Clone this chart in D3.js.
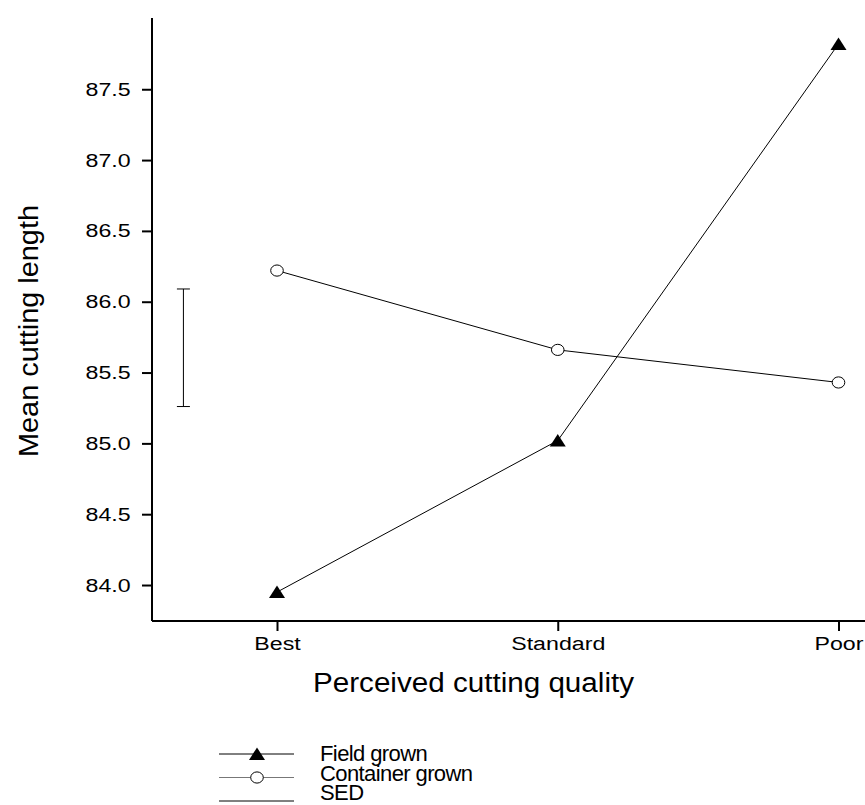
<!DOCTYPE html>
<html>
<head>
<meta charset="utf-8">
<script src="https://cdn.jsdelivr.net/npm/d3@7"></script>
<style>
  body { margin: 0; background: #fff; }
  text { font-family: "Liberation Sans", Arial, sans-serif; fill: #000; }
</style>
</head>
<body>
<div id="chart"></div>
<script>
// data
const categories = ["Best", "Standard", "Poor"];
const fieldGrown = [83.95, 85.02, 87.82];
const containerGrown = [86.22, 85.66, 85.43];
const sedRange = [85.26, 86.09];
const yTicks = [84.0, 84.5, 85.0, 85.5, 86.0, 86.5, 87.0, 87.5];
const legendNames = ["Field grown", "Container grown", "SED"];

const margin = {top: 18, right: 0, bottom: 184, left: 152};
const width = 865 - margin.left - margin.right;
const height = 805 - margin.top - margin.bottom;

const svg = d3.select("#chart")
    .append("svg")
    .attr("width", 865)
    .attr("height", 805);

const g = svg.append("g")
    .attr("transform", "translate(" + margin.left + "," + margin.top + ")");

const x = d3.scalePoint().domain(categories).range([125, 686.5]);
const y = d3.scaleLinear().domain([83.746, 88.003]).range([height, 0]);

// axes
const yAxis = g.append("g")
    .call(d3.axisLeft(y).tickValues(yTicks).tickFormat(d3.format(".1f")).tickSize(10).tickSizeOuter(0));
yAxis.select(".domain").attr("d", "M0,0V" + height).attr("stroke-width", 2);
yAxis.selectAll(".tick line").attr("stroke-width", 2);
yAxis.selectAll("text")
    .style("font-size", "19px")
    .attr("x", -21.3 / 1.22)
    .attr("transform", "scale(1.22,1)");

const xAxis = g.append("g")
    .attr("transform", "translate(0," + height + ")")
    .call(d3.axisBottom(x).tickSize(10).tickSizeOuter(0));
xAxis.select(".domain").attr("d", "M0,0H" + width).attr("stroke-width", 2);
xAxis.selectAll(".tick line").attr("stroke-width", 2);
xAxis.selectAll("text")
    .style("font-size", "19px")
    .attr("y", 15.5)
    .attr("transform", "scale(1.22,1)");

// axis titles
g.append("text")
    .attr("transform", "rotate(-90)")
    .attr("x", -(331 - margin.top))
    .attr("y", 38 - margin.left)
    .attr("text-anchor", "middle")
    .attr("textLength", 252)
    .attr("lengthAdjust", "spacingAndGlyphs")
    .style("font-size", "27px")
    .text("Mean cutting length");

g.append("text")
    .attr("x", (313 + 634) / 2 - margin.left)
    .attr("y", height + 71)
    .attr("text-anchor", "middle")
    .attr("textLength", 321)
    .attr("lengthAdjust", "spacingAndGlyphs")
    .style("font-size", "27px")
    .text("Perceived cutting quality");

// SED bar
const sedX = x("Best") - x.step() / 3;
g.append("path")
    .attr("d", "M" + (sedX - 6.5) + "," + y(sedRange[1]) + "H" + (sedX + 6.5) +
               "M" + sedX + "," + y(sedRange[1]) + "V" + y(sedRange[0]) +
               "M" + (sedX - 6.5) + "," + y(sedRange[0]) + "H" + (sedX + 6.5))
    .attr("stroke", "#000")
    .attr("stroke-width", 1)
    .attr("fill", "none");

// lines
const line = d3.line()
    .x((d, i) => x(categories[i]))
    .y(d => y(d));

g.append("path").datum(fieldGrown)
    .attr("d", line).attr("fill", "none").attr("stroke", "#000").attr("stroke-width", 1);
g.append("path").datum(containerGrown)
    .attr("d", line).attr("fill", "none").attr("stroke", "#000").attr("stroke-width", 1);

const tri = (cx, cy) => "M" + cx + "," + (cy - 6.5) + "L" + (cx + 8) + "," + (cy + 6) + "L" + (cx - 8) + "," + (cy + 6) + "Z";

g.selectAll(".tri")
    .data(fieldGrown)
    .enter().append("path")
    .attr("class", "tri")
    .attr("d", (d, i) => tri(x(categories[i]), y(d)))
    .attr("fill", "#000");

g.selectAll(".circ")
    .data(containerGrown)
    .enter().append("ellipse")
    .attr("class", "circ")
    .attr("cx", (d, i) => x(categories[i]))
    .attr("cy", d => y(d))
    .attr("rx", 6.3)
    .attr("ry", 5.6)
    .attr("fill", "#fff")
    .attr("stroke", "#000")
    .attr("stroke-width", 1);

// legend
const legend = svg.append("g").attr("transform", "translate(219,754)");
const rows = legend.selectAll(".row")
    .data(legendNames)
    .enter().append("g")
    .attr("class", "row")
    .attr("transform", (d, i) => "translate(0," + (i * 23.5) + ")");

rows.append("line")
    .attr("x1", 0).attr("x2", 75)
    .attr("stroke", (d, i) => i === 1 ? "#777" : "#000")
    .attr("stroke-width", 1);

rows.filter((d, i) => i === 0).append("path")
    .attr("d", tri(38, 0))
    .attr("fill", "#000");
rows.filter((d, i) => i === 1).append("ellipse")
    .attr("cx", 38).attr("rx", 6.3).attr("ry", 5.6)
    .attr("fill", "#fff").attr("stroke", "#000");

// legend labels sit a little tighter than the symbol rows
legend.selectAll(".label")
    .data(legendNames)
    .enter().append("text")
    .attr("class", "label")
    .attr("x", 101)
    .attr("y", (d, i) => 7 + i * 19.5)
    .style("font-size", "22px")
    .style("letter-spacing", "-0.6px")
    .text(d => d);
</script>
</body>
</html>
